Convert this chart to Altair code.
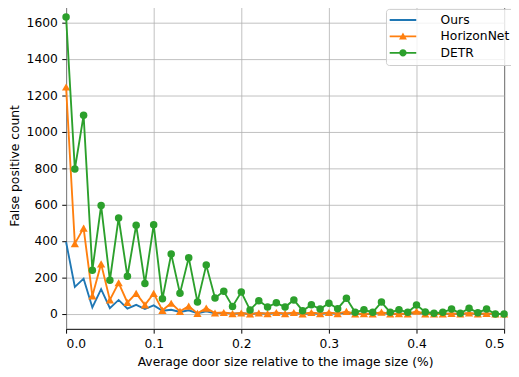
import altair as alt
import pandas as pd

x_vals = [0.00, 0.01, 0.02, 0.03, 0.04, 0.05, 0.06, 0.07, 0.08, 0.09,
          0.10, 0.11, 0.12, 0.13, 0.14, 0.15, 0.16, 0.17, 0.18, 0.19,
          0.20, 0.21, 0.22, 0.23, 0.24, 0.25, 0.26, 0.27, 0.28, 0.29,
          0.30, 0.31, 0.32, 0.33, 0.34, 0.35, 0.36, 0.37, 0.38, 0.39,
          0.40, 0.41, 0.42, 0.43, 0.44, 0.45, 0.46, 0.47, 0.48, 0.49, 0.50]

ours = [395, 149, 194, 36, 136, 32, 77, 29, 50, 27,
        47, 18, 23, 11, 20, 4, 14, 3, 6, 2,
        4, 0, 4, 1, 5, 1, 5, 0, 4, 1,
        5, 1, 8, 0, 1, 0, 6, 0, 1, 0,
        8, 0, 0, 0, 2, 0, 3, 0, 2, 0, 0]

horizonnet = [1245, 386, 471, 99, 275, 77, 171, 63, 113, 50,
              113, 20, 59, 14, 43, 3, 32, 5, 8, 2,
              5, 0, 5, 2, 8, 2, 8, 0, 8, 2,
              8, 2, 14, 0, 2, 0, 10, 0, 2, 0,
              15, 0, 0, 0, 3, 0, 5, 0, 3, 0, 0]

detr = [1630, 795, 1090, 240, 595, 185, 527, 207, 487, 167,
        489, 83, 329, 113, 309, 65, 268, 88, 124, 41,
        120, 22, 72, 38, 61, 38, 77, 18, 50, 27,
        59, 29, 86, 9, 23, 9, 65, 9, 23, 9,
        49, 11, 4, 9, 27, 4, 31, 7, 27, 0, 0]

series_names = ["Ours", "HorizonNet", "DETR"]
series_colors = ["#1f77b4", "#ff7f0e", "#2ca02c"]
x_ticks = [0.0, 0.1, 0.2, 0.3, 0.4, 0.5]
y_ticks = [0, 200, 400, 600, 800, 1000, 1200, 1400, 1600]

# legend glyphs: a line sample (thin filled bar) with the series marker
BAR = "M-2.7,-0.19H2.7V0.19H-2.7Z"
legend_glyphs = [
    BAR + "M0,-0.8L0,-0.8M0,0.8L0,0.8",
    BAR + "M-0.8,0.65L0,-0.8L0.8,0.65Z",
    BAR + "M-0.75,0A0.75,0.75 0 1,1 0.75,0A0.75,0.75 0 1,1 -0.75,0Z",
]
# legend entries get their own keys so the legend is not merged with the hidden colour legend
legend_keys = ["key:" + n for n in series_names]

rows = []
for name, vals in zip(series_names, [ours, horizonnet, detr]):
    for xv, yv in zip(x_vals, vals):
        rows.append({"x": xv, "y": yv, "series": name})
df = pd.DataFrame(rows)

FONT = "DejaVu Sans"
FS = 12.5

legend = alt.Legend(
    title=None,
    orient="none",
    legendX=325,
    legendY=7,
    fillColor="rgba(255,255,255,0.8)",
    strokeColor="#cccccc",
    cornerRadius=3,
    padding=5,
    labelFont=FONT,
    labelFontSize=FS,
    labelColor="black",
    labelAlign="left",
    labelLimit=200,
    labelExpr="replace(datum.label, 'key:', '')",
    symbolSize=100,
    symbolOffset=6,
    symbolStrokeWidth=0,
    symbolOpacity=1,
    labelOffset=32,
    rowPadding=3.7,
)

x_enc = alt.X(
    "x:Q",
    scale=alt.Scale(domain=[0, 0.5], nice=False, zero=False),
    axis=alt.Axis(
        values=x_ticks,
        format=".1f",
        title="Average door size relative to the image size (%)",
    ),
)
y_enc = alt.Y(
    "y:Q",
    scale=alt.Scale(domain=[-81.5, 1711.5], nice=False, zero=False),
    axis=alt.Axis(values=y_ticks, format="d", title="False positive count"),
)
color_enc = alt.Color(
    "series:N", scale=alt.Scale(domain=series_names, range=series_colors), legend=None
)

base = alt.Chart(df).encode(x=x_enc, y=y_enc, color=color_enc, order=alt.Order("x:Q"))

line_ours = base.transform_filter(alt.datum.series == "Ours").mark_line(strokeWidth=1.9)
line_hn = base.transform_filter(alt.datum.series == "HorizonNet").mark_line(strokeWidth=1.9)
pts_hn = base.transform_filter(alt.datum.series == "HorizonNet").mark_point(
    filled=True, shape="triangle-up", size=70, opacity=1
)
line_detr = base.transform_filter(alt.datum.series == "DETR").mark_line(strokeWidth=1.9)
pts_detr = base.transform_filter(alt.datum.series == "DETR").mark_point(
    filled=True, shape="circle", size=58, opacity=1
)

legend_layer = (
    alt.Chart(df)
    .transform_filter(alt.datum.series == "__none__")
    .transform_calculate(entry="'key:' + datum.series")
    .mark_point(filled=True, opacity=1)
    .encode(
        x=x_enc,
        y=y_enc,
        fill=alt.Fill("entry:N", scale=alt.Scale(domain=legend_keys, range=series_colors), legend=legend),
        shape=alt.Shape("entry:N", scale=alt.Scale(domain=legend_keys, range=legend_glyphs), legend=legend),
    )
)

chart = (
    alt.layer(line_ours, line_hn, pts_hn, line_detr, pts_detr, legend_layer)
    .properties(
        width=445,
        height=332,
        autosize=alt.AutoSizeParams(type="none"),
        padding={"left": 59, "top": -9, "right": 7, "bottom": 45},
        background="white",
    )
    .configure_view(stroke="black", strokeWidth=1, fill="white")
    .configure_axis(
        labelFont=FONT,
        labelFontSize=FS,
        labelColor="black",
        titleFont=FONT,
        titleFontSize=FS,
        titleColor="black",
        titleFontWeight="normal",
        domain=False,
        tickColor="black",
        tickSize=4.4,
        tickWidth=1,
        gridColor="#b0b0b0",
        gridWidth=0.8,
        labelPadding=4.4,
    )
    .configure_axisX(titlePadding=6)
    .configure_axisY(titlePadding=5)
)

chart.save("out.html", embed_options={"renderer": "svg", "actions": False})
